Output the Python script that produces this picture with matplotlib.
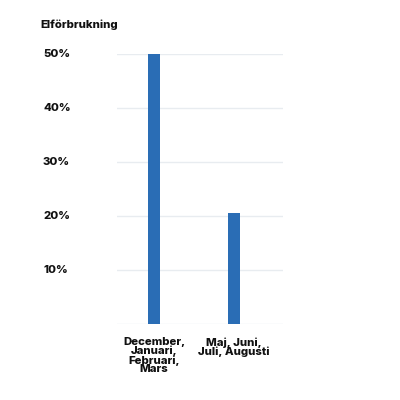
import matplotlib.pyplot as plt
import matplotlib.transforms as mtransforms

# data
categories = ["December,\nJanuari,\nFebruari,\nMars", "Maj, Juni,\nJuli, Augusti"]
values = [50, 20.5]
yticks = [10, 20, 30, 40, 50]
ylabels = ["10%", "20%", "30%", "40%", "50%"]

plt.rcParams['font.family'] = ['Inter', 'DejaVu Sans']

fig = plt.figure(figsize=(4, 4), dpi=100)
ax = fig.add_axes([0.2925, 0.19, 0.415, 0.675])

x = list(range(len(categories)))
ax.bar(x, values, width=0.15, color='#2a6db5', zorder=3)
ax.set_xlim(-0.4625, 1.6125)
ax.set_ylim(0, 50)

# grid lines
for v in [0] + yticks:
    ax.axhline(v, color='#e8ecf0', lw=1, zorder=1)

ax.set_yticks(yticks)
ax.set_yticklabels([])
ax.tick_params(left=False, bottom=False)

# y labels sit at the left edge of the figure
trans = mtransforms.blended_transform_factory(fig.transFigure, ax.transData)
for v, lab in zip(yticks, ylabels):
    ax.text(43 / 400, v, lab, transform=trans, fontsize=8.2, fontweight='heavy',
            va='center', ha='left', color='#111111')

ax.set_xticks(x)
ax.set_xticklabels(categories, fontsize=8.2, fontweight='heavy', linespacing=0.85, color='#111111')
ax.tick_params(axis='x', pad=6)

for s in ax.spines.values():
    s.set_visible(False)

fig.text(40 / 400, 1 - 25 / 400, "Elförbrukning", fontsize=8.2, fontweight='heavy',
         va='center', ha='left', color='#111111')

fig.savefig('out.png', dpi=100)
